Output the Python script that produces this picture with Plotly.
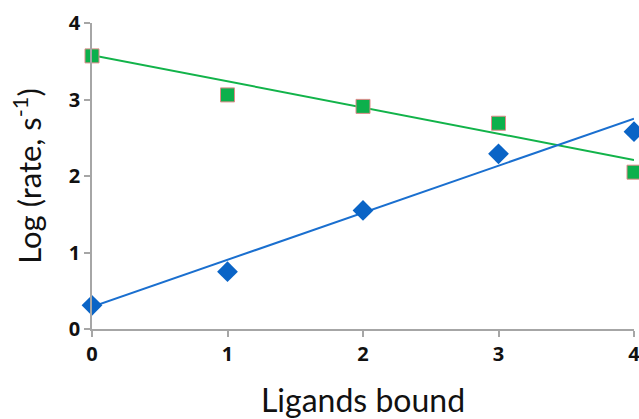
import plotly.graph_objects as go

ligands = [0, 1, 2, 3, 4]
green_vals = [3.57, 3.06, 2.91, 2.69, 2.05]
blue_vals = [0.31, 0.75, 1.55, 2.29, 2.58]
fit_x = [0, 4]
green_fit = [3.58, 2.21]
blue_fit = [0.29, 2.75]
tick_vals = [0, 1, 2, 3, 4]

fig = go.Figure()
fig.add_trace(go.Scatter(x=fit_x, y=green_fit, mode="lines",
                         line=dict(color="#12b34a", width=2), hoverinfo="skip"))
fig.add_trace(go.Scatter(x=fit_x, y=blue_fit, mode="lines",
                         line=dict(color="#1a6fcf", width=2), hoverinfo="skip"))
fig.add_trace(go.Scatter(x=ligands, y=green_vals, mode="markers",
                         marker=dict(symbol="square", size=14, color="#0cb04c",
                                     line=dict(color="#e08a8a", width=1))))
fig.add_trace(go.Scatter(x=ligands, y=blue_vals, mode="markers",
                         marker=dict(symbol="diamond", size=16, color="#0a64c6",
                                     line=dict(width=0))))

axis_common = dict(showgrid=False, zeroline=False, showline=True,
                   linecolor="#a6a6a6", linewidth=1.5, ticks="outside",
                   tickcolor="#a6a6a6", ticklen=6, tickwidth=1.5, automargin=False,
                   ticklabeloverflow="allow",
                   tickfont=dict(family="Open Sans", size=20, color="#111111", weight="bold"))

fig.update_layout(
    width=639, height=419,
    margin=dict(l=92, r=5, t=23, b=90),
    paper_bgcolor="white", plot_bgcolor="white",
    showlegend=False,
    xaxis=dict(range=[0, 4], tickvals=tick_vals, **axis_common,
               title=dict(text="Ligands bound", standoff=25,
                          font=dict(family="Lato", size=32, color="#111111"))),
    yaxis=dict(range=[0, 4], tickvals=tick_vals, **axis_common,
               title=dict(text="Log (rate, s<sup>-1</sup>)", standoff=18,
                          font=dict(family="Lato", size=31, color="#111111"))),
)
fig.update_traces(cliponaxis=False)

fig.write_html("out.html", config={"displayModeBar": False},
               post_script="document.body.style.margin='0';")
